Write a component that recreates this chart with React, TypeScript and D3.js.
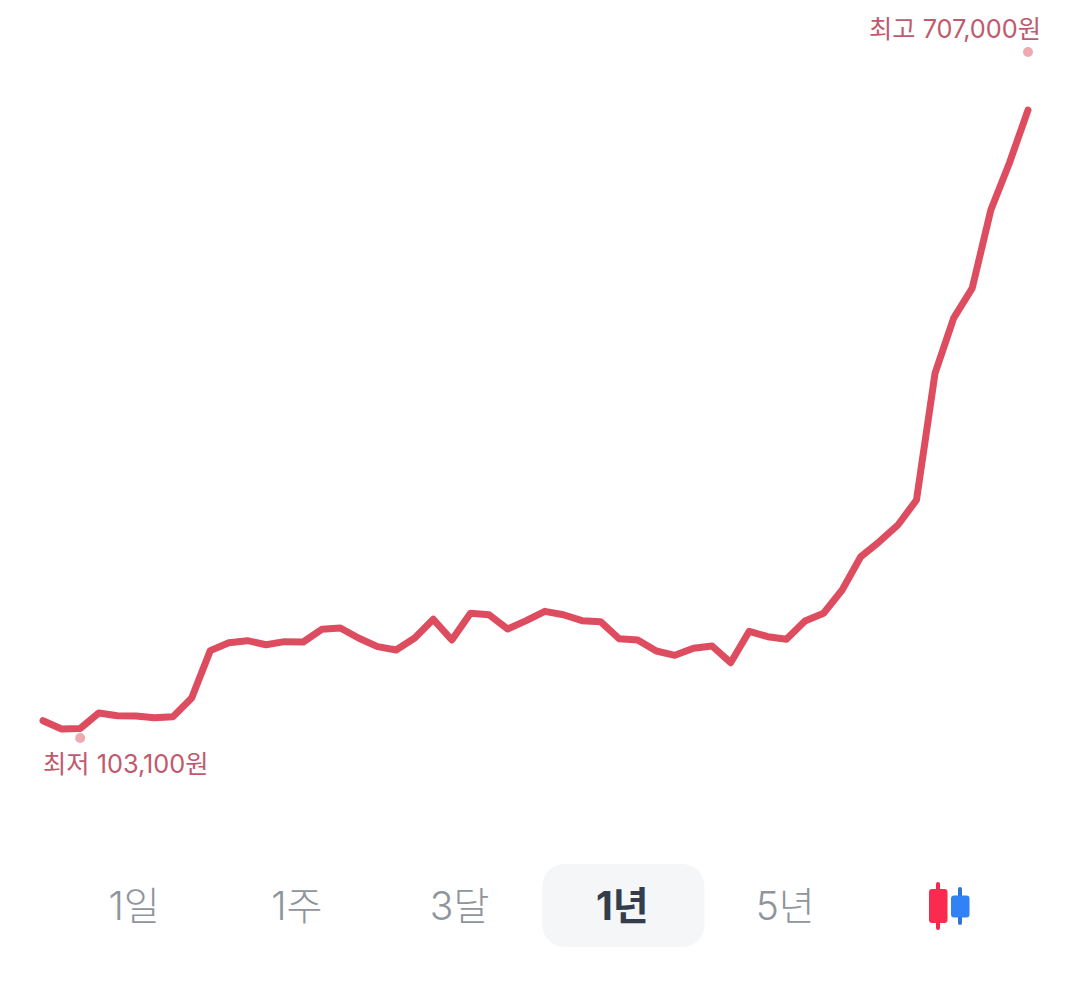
import React from 'react';
import * as d3 from 'd3';

// closing prices, one per week
const prices = [
  118300, 111000, 111500, 125100, 122700, 122500, 121000, 121900, 138300, 180000,
  187000, 188800, 185200, 187900, 187600, 198800, 199900, 190900, 183500, 180600,
  191100, 207600, 189400, 212900, 211600, 199100, 206400, 214600, 211600, 206400,
  205500, 190500, 189400, 179700, 175900, 182100, 184100, 169400, 197000, 192300,
  190000, 206100, 212900, 233400, 262700, 275900, 290600, 312600, 424400, 472800,
  499200, 567900, 609300, 655900,
];
const lowPrice = 103100;
const highPrice = 707000;
const lowIndex = 2;
const highIndex = 53;
const periods = ['1일', '1주', '3달', '1년', '5년', 'candle'];
const activePeriod = '1년';

const WIDTH = 1082;
const HEIGHT = 988;
const FONT = 'Inter, "Noto Sans CJK KR", sans-serif';

const x = d3.scaleLinear().domain([0, prices.length - 1]).range([43, 1028]);
const y = d3.scaleLinear().domain([lowPrice, highPrice]).range([738, 52]);
const tabX = d3.scalePoint<string>().domain(periods).range([134, 948]);

const line = d3.line<number>()
  .x((_, i) => x(i))
  .y(d => y(d))
  .curve(d3.curveLinear);

const won = d3.format(',');

const CandleIcon: React.FC<{ cx: number }> = ({ cx }) => (
  <g>
    <line x1={cx - 10} x2={cx - 10} y1={884} y2={928} stroke="#f5284c" strokeWidth={4} strokeLinecap="round" />
    <rect x={cx - 19} y={889} width={18.5} height={34} rx={3} fill="#fb2b4f" />
    <line x1={cx + 12} x2={cx + 12} y1={889} y2={923} stroke="#2f75d6" strokeWidth={4} strokeLinecap="round" />
    <rect x={cx + 3} y={895.5} width={18.5} height={22} rx={3} fill="#3182f6" />
  </g>
);

export default function App() {
  return (
    <>
      <style>{'body{margin:0;background:#fff}'}</style>
      <svg width={WIDTH} height={HEIGHT} style={{ display: 'block', fontFamily: FONT }}>
        <path
          d={line(prices) || ''}
          fill="none"
          stroke="#de4d5f"
          strokeWidth={7}
          strokeLinecap="round"
          strokeLinejoin="round"
        />

        <circle cx={x(lowIndex)} cy={y(lowPrice)} r={5} fill="#efaab0" />
        <circle cx={x(highIndex)} cy={y(highPrice)} r={5} fill="#efaab0" />
        <text x={43} y={773} fontSize={25.3} fill="#bf5a6e">{`최저 ${won(lowPrice)}원`}</text>
        <text x={1041} y={37.5} fontSize={25.3} textAnchor="end" fill="#bf5a6e">{`최고 ${won(highPrice)}원`}</text>

        {periods.map(p => {
          const cx = tabX(p) || 0;
          if (p === 'candle') return <CandleIcon key={p} cx={cx} />;
          const active = p === activePeriod;
          return (
            <g key={p}>
              {active && <rect x={cx - 80} y={864} width={162} height={83} rx={22} fill="#f4f6f8" />}
              <text
                x={cx}
                y={920}
                fontSize={39}
                textAnchor="middle"
                fontWeight={active ? 700 : 300}
                fill={active ? '#333d4b' : '#8f959c'}
              >
                {p}
              </text>
            </g>
          );
        })}
      </svg>
    </>
  );
}
